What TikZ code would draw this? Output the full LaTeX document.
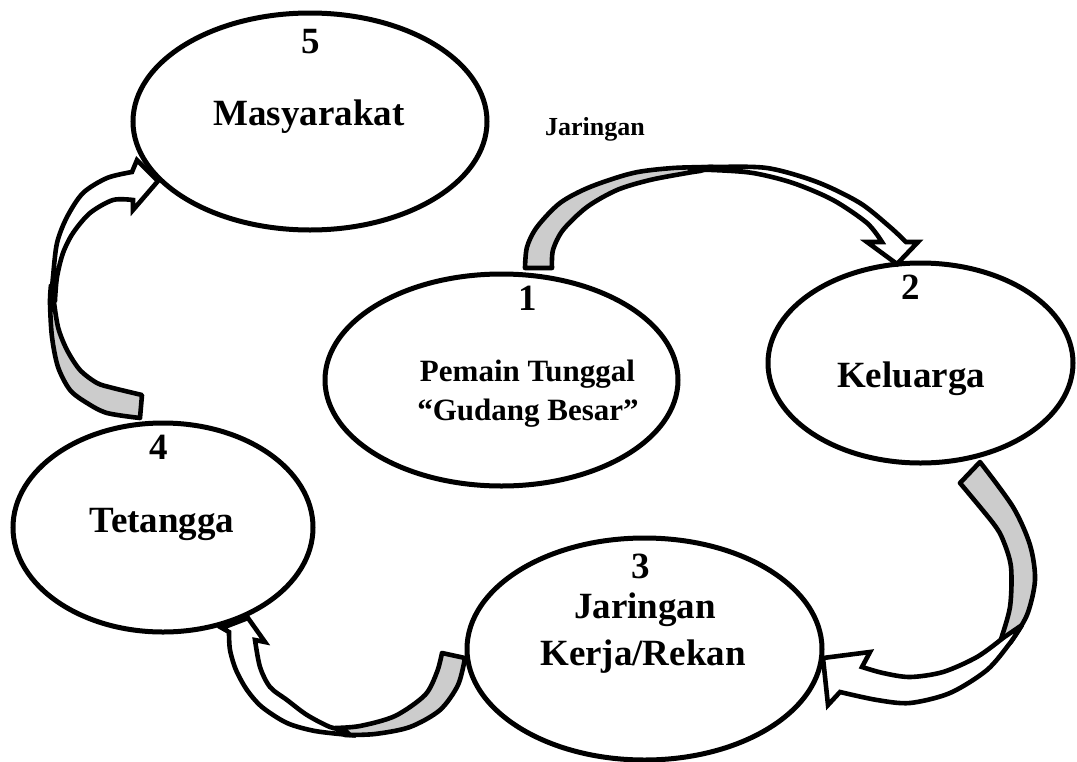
\documentclass[tikz,border=0pt]{standalone}
\usepackage{fontspec}
\setmainfont{Liberation Serif}
\usetikzlibrary{shapes.geometric}
\tikzset{
  bubble/.style={draw, fill=white, line width=5pt, ellipse, inner sep=0pt},
  backside/.style={draw, fill=black!20, line width=4.6pt, line join=round},
  frontside/.style={draw, fill=white, line width=4.6pt, line join=miter, miter limit=4},
  lbl/.style={anchor=base, font=\bfseries\fontsize{37}{44}\selectfont},
  smalllbl/.style={anchor=base, font=\bfseries\fontsize{31}{38}\selectfont},
}
\begin{document}
\begin{tikzpicture}[x=1pt,y=-1pt]
  \useasboundingbox (0,0) rectangle (1077,761);

  % the five groups
  \node[bubble, minimum width=354pt, minimum height=217pt] (e5) at (310,121.5) {};
  \node[bubble, minimum width=353pt, minimum height=212pt] (e1) at (501.5,380) {};
  \node[bubble, minimum width=305pt, minimum height=200pt] (e2) at (920.5,363) {};
  \node[bubble, minimum width=300pt, minimum height=209pt] (e4) at (163,527.5) {};
  \node[bubble, minimum width=355pt, minimum height=222pt] (e3) at (644.5,649) {};

  % arrow 1 -> 2
  \filldraw[backside] plot[smooth] coordinates {(525,268) (527,247) (537,227) (560,203) (590,187) (633,173) (673,168) (713,167)}
    -- plot[smooth] coordinates {(700,171) (687,173) (650,180) (617,190) (587,207) (563,230) (553,250) (552,268)} -- cycle;
  \filldraw[frontside] plot[smooth] coordinates {(690,168) (713,167) (767,168) (817,182) (860,203) (890,227) (906,242)}
    -- (918,242) -- (897,264) -- (867,242) -- (882,242)
    -- plot[smooth] coordinates {(882,242) (867,223) (833,200) (793,183) (753,173) (713,170) (690,170)} -- cycle;

  % arrow 2 -> 3
  \filldraw[backside] (960,483) -- (980,462)
    -- plot[smooth] coordinates {(980,462) (1013,507) (1030,545) (1035,580) (1027,615) (1010,643)}
    -- plot[smooth] coordinates {(1000,642) (1010,607) (1011,567) (1003,540) (993,523) (960,483)} -- cycle;
  \filldraw[frontside] plot[smooth] coordinates {(1003,638) (977,657) (943,672) (910,677) (883,673) (862,667)}
    -- (870,652) -- (823,658) -- (828,705) -- (840,692)
    -- plot[smooth] coordinates {(840,692) (877,700) (910,703) (950,693) (987,670) (1010,643) (1022,625)} -- cycle;

  % arrow 3 -> 4
  \filldraw[backside] (442,653) -- (465,658)
    -- plot[smooth] coordinates {(465,658) (458,685) (440,710) (410,727) (375,734) (345,735)}
    -- plot[smooth] coordinates {(335,728) (360,726) (395,716) (425,695) (437,672) (442,653)} -- cycle;
  \filldraw[frontside] plot[smooth] coordinates {(350,735) (315,731) (287,723) (262,707) (247,690) (236,670) (230,650) (229,632)}
    -- (222,628) -- (248,618) -- (265,642) -- (255,640)
    -- plot[smooth] coordinates {(255,640) (260,667) (270,687) (287,700) (307,715) (330,727) (345,730)} -- cycle;

  % arrow 4 -> 5
  \filldraw[backside] (142,395) -- (140,418)
    -- plot[smooth] coordinates {(140,418) (107,413) (87,403) (70,390) (58,367) (52,337) (50,303) (51,285)}
    -- plot[smooth] coordinates {(53,295) (58,327) (67,350) (80,370) (97,383) (113,388) (142,395)} -- cycle;
  \filldraw[frontside] plot[smooth] coordinates {(51,300) (53,277) (57,243) (67,217) (83,193) (107,178) (132,172)}
    -- (137,160) -- (158,181) -- (133,210) -- (133,200)
    -- plot[smooth] coordinates {(133,200) (113,200) (90,213) (73,233) (63,253) (57,277) (55,300)} -- cycle;

  % labels
  \node[lbl] (num5) at (311,53) {5};
  \node[lbl] (t5) at (309,125) {Masyarakat};
  \node[lbl] (num1) at (528,310) {1};
  \node[smalllbl] (t1a) at (527.5,381) {Pemain Tunggal};
  \node[smalllbl] (t1b) at (528,420) {“Gudang Besar”};
  \node[lbl] (num2) at (911,299) {2};
  \node[lbl] (t2) at (911,387) {Keluarga};
  \node[lbl] (num4) at (159,459) {4};
  \node[lbl] (t4) at (162,532) {Tetangga};
  \node[lbl] (num3) at (641,578) {3};
  \node[lbl] (t3a) at (645,618) {Jaringan};
  \node[lbl] (t3b) at (643,665) {Kerja/Rekan};
  \node[anchor=base, font=\bfseries\fontsize{26}{31}\selectfont] (top) at (595,135) {Jaringan};
\end{tikzpicture}
\end{document}
